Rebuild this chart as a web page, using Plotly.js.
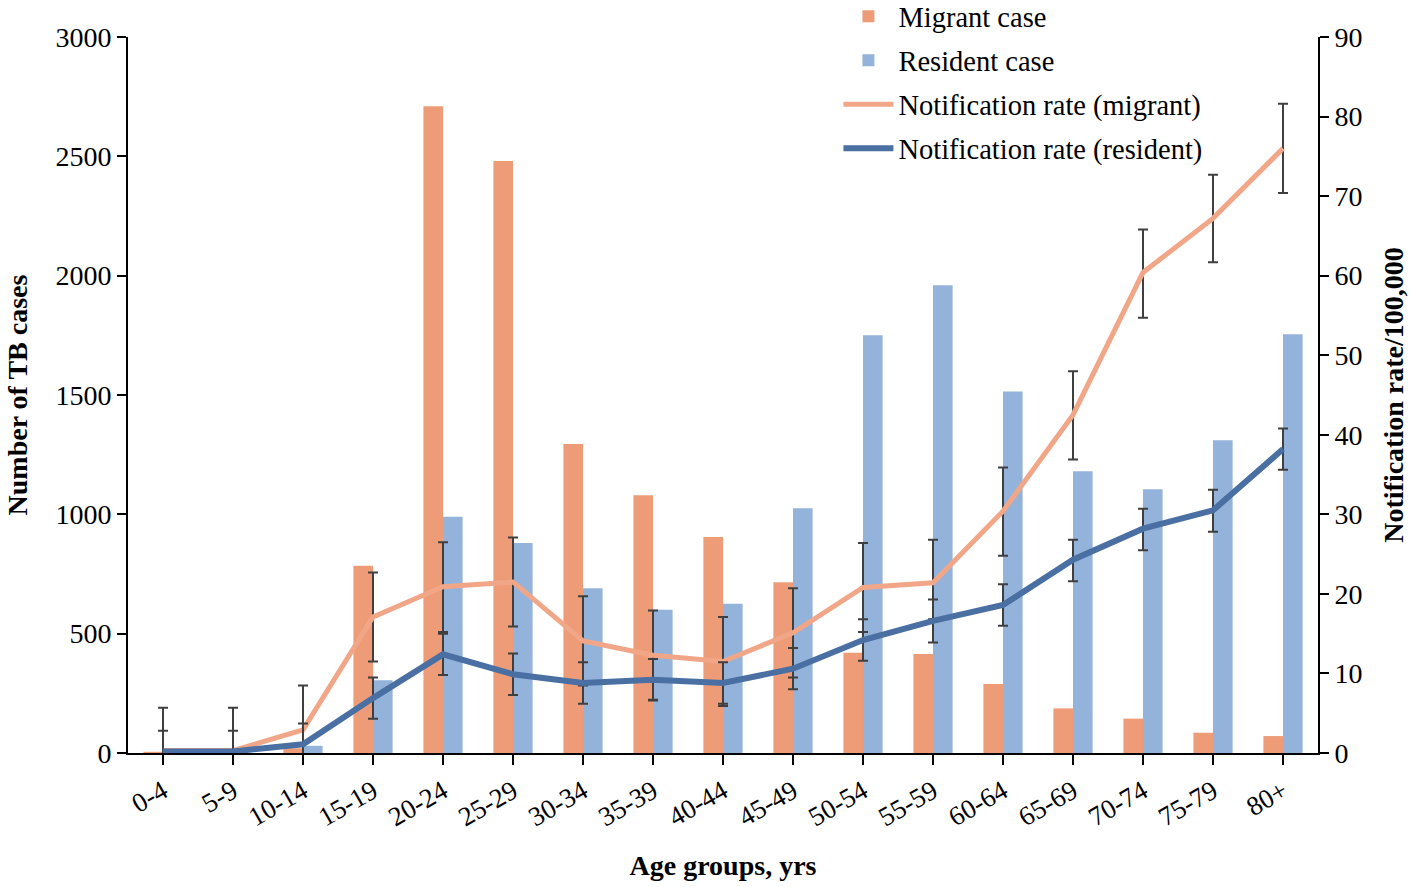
<!DOCTYPE html>
<html>
<head>
<meta charset="utf-8">
<script src="https://cdn.plot.ly/plotly-3.0.1.min.js"></script>
<style>
  html, body { margin: 0; padding: 0; background: #fff; }
  #myDiv { width: 1418px; height: 887px; }
</style>
</head>
<body>
<div id="myDiv"></div>
<script>
// age groups on the x axis
var ageGroups = ['0-4', '5-9', '10-14', '15-19', '20-24', '25-29', '30-34', '35-39', '40-44',
                 '45-49', '50-54', '55-59', '60-64', '65-69', '70-74', '75-79', '80+'];

// number of TB cases (left axis)
var migrantCases  = [5, 2, 20, 785, 2710, 2480, 1295, 1080, 905, 715, 420, 415, 289, 187, 144, 85, 71];
var residentCases = [2, 1, 30, 305, 990, 880, 690, 600, 625, 1025, 1750, 1960, 1515, 1180, 1105, 1310, 1755];

// notification rate per 100,000 (right axis)
var migrantRate  = [0.3, 0.3, 2.9, 17.1, 20.9, 21.5, 14.1, 12.3, 11.5, 15.1, 20.8, 21.4, 30.4, 42.5, 60.4, 67.2, 76.0];
var residentRate = [0.2, 0.2, 1.1, 6.9, 12.4, 9.9, 8.8, 9.2, 8.8, 10.6, 14.2, 16.6, 18.6, 24.3, 28.2, 30.5, 38.2];

// error bar half-widths
var migrantErrUp    = [5.4, 5.4, 5.6, 5.6, 5.6, 5.6, 5.6, 5.6, 5.6, 5.6, 5.6, 5.4, 5.5, 5.5, 5.4, 5.5, 5.6];
var migrantErrDown  = [5.4, 5.4, 5.6, 5.6, 5.7, 5.6, 5.6, 5.6, 5.6, 5.6, 5.6, 4.6, 5.6, 5.6, 5.7, 5.5, 5.6];
var residentErrUp   = [2.6, 2.6, 2.6, 2.6, 2.6, 2.6, 2.6, 2.6, 2.6, 2.6, 2.6, 2.7, 2.6, 2.5, 2.5, 2.6, 2.6];
var residentErrDown = [2.6, 2.6, 2.6, 2.6, 2.6, 2.6, 2.6, 2.6, 2.6, 2.6, 2.6, 2.7, 2.6, 2.7, 2.7, 2.7, 2.6];

var FONT = '"Liberation Serif", "Times New Roman", serif';
var errColor = '#3f3f3f';

var traces = [
  {
    name: 'Migrant case', type: 'bar', x: ageGroups, y: migrantCases,
    marker: {color: '#EE9C78'}, yaxis: 'y', legendgroup: 'a'
  },
  {
    name: 'Resident case', type: 'bar', x: ageGroups, y: residentCases,
    marker: {color: '#93B3DA'}, yaxis: 'y', legendgroup: 'b'
  },
  {
    name: 'Notification rate (migrant)', type: 'scatter', mode: 'lines',
    x: ageGroups, y: migrantRate, yaxis: 'y2', legendgroup: 'c',
    line: {color: '#F2A688', width: 5},
    error_y: {type: 'data', symmetric: false, array: migrantErrUp, arrayminus: migrantErrDown,
              color: errColor, thickness: 2, width: 5}
  },
  {
    name: 'Notification rate (resident)', type: 'scatter', mode: 'lines',
    x: ageGroups, y: residentRate, yaxis: 'y2', legendgroup: 'd',
    line: {color: '#4A6FA2', width: 6},
    error_y: {type: 'data', symmetric: false, array: residentErrUp, arrayminus: residentErrDown,
              color: errColor, thickness: 2, width: 5}
  }
];

var layout = {
  width: 1418, height: 887,
  margin: {l: 128, r: 100, t: 37, b: 134, autoexpand: false},
  paper_bgcolor: '#fff', plot_bgcolor: '#fff',
  font: {family: FONT, size: 28, color: '#000'},
  barmode: 'group', bargap: 0.44, bargroupgap: 0,
  showlegend: true,
  legend: {
    x: 0.597, y: 1.064, xanchor: 'left', yanchor: 'top',
    bgcolor: 'rgba(0,0,0,0)', font: {family: FONT, size: 28.5}, itemwidth: 50,
    tracegroupgap: 4, traceorder: 'grouped'
  },
  xaxis: {
    type: 'category', range: [-0.5, 16.5],
    showline: true, linecolor: '#000', linewidth: 2,
    ticks: 'outside', ticklen: 10, tickwidth: 2, tickcolor: '#000',
    tickangle: -30, tickfont: {family: FONT, size: 27},
    showgrid: false, zeroline: false,
    title: {text: '<b>Age groups, yrs</b>', font: {family: FONT, size: 28}, standoff: 24}
  },
  yaxis: {
    range: [0, 3000], dtick: 500,
    showline: true, linecolor: '#000', linewidth: 2,
    ticks: 'outside', ticklen: 9, tickwidth: 2, tickcolor: '#000',
    tickfont: {family: FONT, size: 28},
    showgrid: false, zeroline: false,
    title: {text: '<b>Number of TB cases</b>', font: {family: FONT, size: 28}, standoff: 20}
  },
  yaxis2: {
    overlaying: 'y', side: 'right', range: [0, 90], dtick: 10,
    showline: true, linecolor: '#000', linewidth: 2,
    ticks: 'outside', ticklen: 9, tickwidth: 2, tickcolor: '#000',
    tickfont: {family: FONT, size: 28},
    showgrid: false, zeroline: false,
    title: {text: '<b>Notification rate/100,000</b>', font: {family: FONT, size: 28}, standoff: 22}
  }
};

Plotly.newPlot('myDiv', traces, layout, {displayModeBar: false, staticPlot: true});
</script>
</body>
</html>
